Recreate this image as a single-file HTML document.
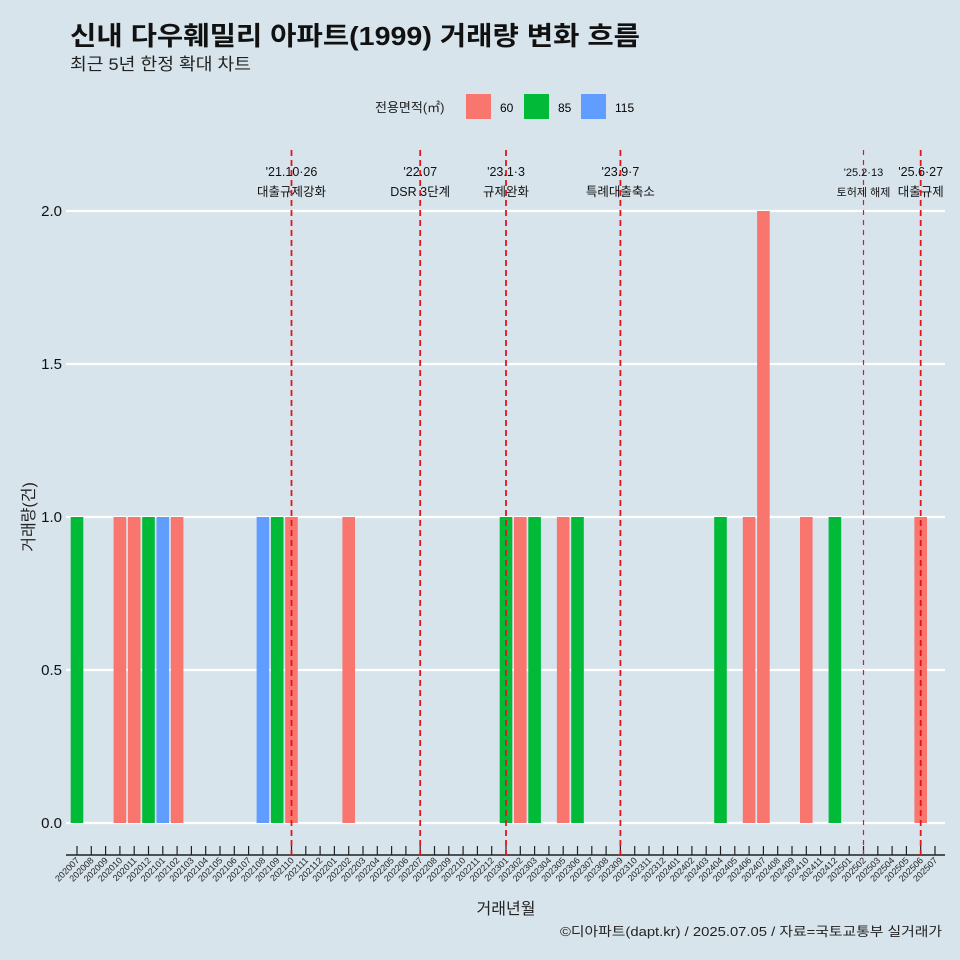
<!DOCTYPE html>
<html><head><meta charset="utf-8"><style>
body{margin:0;background:#d7e4ec;font-family:"Liberation Sans","Noto Sans CJK KR",sans-serif;overflow:hidden}
</style></head><body>
<svg id="c" width="960" height="960" xmlns="http://www.w3.org/2000/svg" style="display:block;font-family:'Liberation Sans','Noto Sans CJK KR',sans-serif">
<rect width="960" height="960" fill="#d7e4ec"/>
<text x="70" y="45" font-size="26" font-weight="bold" fill="#111" textLength="570" lengthAdjust="spacingAndGlyphs">신내 다우훼밀리 아파트(1999) 거래량 변화 흐름</text>
<text x="70" y="70" font-size="17" fill="#222" textLength="181" lengthAdjust="spacingAndGlyphs">최근 5년 한정 확대 차트</text>
<g id="legend">
<text x="375" y="112" font-size="13" fill="#222">전용면적(㎡)</text>
<rect x="466" y="94" width="25" height="25" fill="#F8766D"/><text x="500" y="112" font-size="12">60</text>
<rect x="524" y="94" width="25" height="25" fill="#00BA38"/><text x="558" y="112" font-size="12">85</text>
<rect x="581" y="94" width="25" height="25" fill="#619CFF"/><text x="615" y="112" font-size="12">115</text>
</g>
<g id="grid"></g><g id="bars"></g><g id="xaxis"></g><g id="events"></g>
<text transform="translate(34,517) rotate(-90)" text-anchor="middle" font-size="16" fill="#222">거래량(건)</text>
<text x="506" y="914" text-anchor="middle" font-size="16" fill="#222">거래년월</text>
<text x="942" y="936" text-anchor="end" font-size="13" fill="#222" textLength="382" lengthAdjust="spacingAndGlyphs">©디아파트(dapt.kr) / 2025.07.05 / 자료=국토교통부 실거래가</text>
</svg>
<script>
const barMonths=["202007","202010","202011","202012","202101","202102","202108","202109","202110","202202","202301","202302","202303","202305","202306","202404","202406","202407","202410","202412","202506"];
const barSizes=["85","60","60","85","115","60","115","85","60","60","85","60","85","60","85","85","60","60","60","85","60"];
const barValues=[1,1,1,1,1,1,1,1,1,1,1,1,1,1,1,1,1,2,1,1,1];
const yTicks=[0,0.5,1,1.5,2];
const eventMonths=["202110","202207","202301","202309","202502","202506"];
const eventLine1=["'21.10·26","'22.07","'23.1·3","'23.9·7","'25.2·13","'25.6·27"];
const eventLine2=["대출규제강화","DSR 3단계","규제완화","특례대출축소","토허제 해제","대출규제"];
const months=[];for(let y=2020;y<=2025;y++)for(let m=1;m<=12;m++){const s=y+String(m).padStart(2,'0');if(s>="202007"&&s<="202507")months.push(s);}
const colors={"60":"#F8766D","85":"#00BA38","115":"#619CFF"};
const NS="http://www.w3.org/2000/svg";
const x=m=>77+months.indexOf(m)*(935-77)/(months.length-1);
const y=v=>823-v*306;
function mk(t,a,p){const e=document.createElementNS(NS,t);for(const k in a)e.setAttribute(k,a[k]);p.appendChild(e);return e;}
const G=document.getElementById('grid');
yTicks.forEach(v=>{const l=mk('line',{x1:66,x2:945,y1:y(v),y2:y(v),stroke:'#fff','stroke-width':2.2},G);


const t=mk('text',{x:62,y:y(v)+5,'text-anchor':'end','font-size':15,fill:'#111'},G);t.textContent=v.toFixed(1);

});
const B=document.getElementById('bars');
barMonths.forEach((m,i)=>{const r=mk('rect',{x:x(m)-6.3,y:y(barValues[i]),width:12.6,height:y(0)-y(barValues[i]),fill:colors[barSizes[i]]},B);

});
const X=document.getElementById('xaxis');
mk('line',{x1:66,x2:945,y1:855,y2:855,stroke:'#222','stroke-width':1.5},X);
months.forEach(m=>{mk('line',{x1:x(m),x2:x(m),y1:846,y2:855,stroke:'#222','stroke-width':1.2},X);
const t=mk('text',{transform:`translate(${x(m)+3},861) rotate(-45)`,'text-anchor':'end','font-size':9,fill:'#222'},X);t.textContent=m;

});
const E=document.getElementById('events');
eventMonths.forEach((m,i)=>{const small=i==4;
const l=mk('line',{x1:x(m),x2:x(m),y1:150,y2:855,stroke:'#e8141c','stroke-width':small?1.2:1.8,'stroke-dasharray':small?'5,5':'6,4'},E);


const fs=small?11:12.5;
const a=mk('text',{x:x(m),y:176,'text-anchor':'middle','font-size':fs,fill:'#111'},E);a.textContent=eventLine1[i];


const b=mk('text',{x:x(m),y:196,'text-anchor':'middle','font-size':fs,fill:'#111'},E);b.textContent=eventLine2[i];

});
</script>
</body></html>
